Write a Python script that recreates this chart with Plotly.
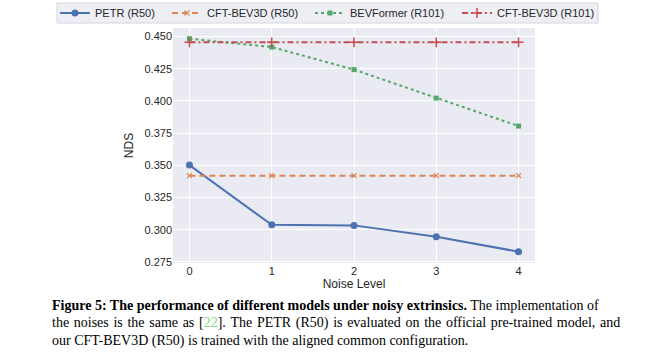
import plotly.graph_objects as go

noise_levels = [0, 1, 2, 3, 4]
petr_r50 = [0.3502, 0.3038, 0.3034, 0.2945, 0.2830]
cft_r50 = [0.3420, 0.3420, 0.3420, 0.3420, 0.3420]
bevformer_r101 = [0.4483, 0.4418, 0.4243, 0.4022, 0.3805]
cft_r101 = [0.4455, 0.4455, 0.4455, 0.4455, 0.4455]
y_ticks = [0.275, 0.300, 0.325, 0.350, 0.375, 0.400, 0.425, 0.450]

W, H = 650, 359
L, R, T, B = 173, 115, 28, 96
pw, ph = W - L - R, H - T - B

def px(x):
    return (x - L) / pw

def py(y):
    return (H - B - y) / ph

fig = go.Figure()
fig.add_trace(go.Scatter(x=noise_levels, y=petr_r50, name="PETR (R50)", mode="lines+markers",
                         legend="legend",
                         line=dict(color="#4c72b0", width=2, dash="solid"),
                         marker=dict(symbol="circle", size=7, color="#4c72b0")))
fig.add_trace(go.Scatter(x=noise_levels, y=cft_r50, name="CFT-BEV3D (R50)", mode="lines+markers",
                         legend="legend2",
                         line=dict(color="#dd8452", width=2, dash="6px,4px"),
                         marker=dict(symbol="x-thin", size=5, color="#dd8452", line=dict(color="#dd8452", width=1.2))))
fig.add_trace(go.Scatter(x=noise_levels, y=bevformer_r101, name="BEVFormer (R101)", mode="lines+markers",
                         legend="legend3",
                         line=dict(color="#55a868", width=2, dash="dot"),
                         marker=dict(symbol="square", size=5, color="#55a868")))
fig.add_trace(go.Scatter(x=noise_levels, y=cft_r101, name="CFT-BEV3D (R101)", mode="lines+markers",
                         legend="legend4",
                         line=dict(color="#c44e52", width=2, dash="6px,3px,2px,3px"),
                         marker=dict(symbol="cross-thin", size=7, color="#c44e52", line=dict(color="#c44e52", width=1.5))))

legend_text_starts = [93, 205, 348, 495]

def leg(xpix):
    return dict(orientation="h", xref="container", yref="container",
                x=(xpix - 38) / W, xanchor="left", y=1 - 13 / H, yanchor="middle",
                bgcolor="rgba(0,0,0,0)", borderwidth=0,
                font=dict(size=11, color="#262626"), itemwidth=30)

fig.update_layout(
    width=W, height=H,
    margin=dict(l=L, r=R, t=T, b=B, pad=0, autoexpand=False),
    paper_bgcolor="white",
    plot_bgcolor="#eaeaf2",
    font=dict(family="Liberation Sans, Arial, sans-serif", size=11, color="#262626"),
    showlegend=True,
    legend=leg(legend_text_starts[0]),
    legend2=leg(legend_text_starts[1]),
    legend3=leg(legend_text_starts[2]),
    legend4=leg(legend_text_starts[3]),
    xaxis=dict(range=[-0.2, 4.2], tickvals=noise_levels, ticktext=[str(v) for v in noise_levels],
               showgrid=True, gridcolor="white", gridwidth=1, zeroline=False, showline=False,
               ticks="", ticklen=0, automargin=False, tickfont=dict(size=11),
               title=dict(text="Noise Level", font=dict(size=12), standoff=0)),
    yaxis=dict(range=[0.2742, 0.4566], tickvals=y_ticks, ticktext=["%.3f" % v for v in y_ticks],
               showgrid=True, gridcolor="white", gridwidth=1, zeroline=False, showline=False,
               ticks="", ticklen=0, automargin=False, tickfont=dict(size=11),
               title=dict(text="NDS", font=dict(size=12), standoff=8)),
)

# legend frame
x0, x1, y0, y1 = 57, 598, 3, 23
fig.add_shape(type="rect", xref="paper", yref="paper",
              x0=px(x0), x1=px(x1), y0=py(y1), y1=py(y0),
              fillcolor="rgba(234,234,242,0.8)", line=dict(color="#d6d6de", width=1), layer="below")

serif = "Liberation Serif, Times New Roman, serif"
line2 = ("the noises is the same as [<span style='color:#7ed67e'>22</span>]. The PETR (R50) "
         "is evaluated on the official pre-trained model, and").replace(" ", " \u200a")
line2 = line2.replace("<span \u200astyle", "<span style")
caption_lines = [
    "<b>Figure 5: The performance of different models under noisy extrinsics.</b> The implementation of",
    line2,
    "our CFT-BEV3D (R50) is trained with the aligned common configuration.",
]
caption_y = [305, 323, 341]
for text, yy in zip(caption_lines, caption_y):
    fig.add_annotation(text=text, xref="paper", yref="paper", x=px(50), y=py(yy),
                       xanchor="left", yanchor="middle", showarrow=False,
                       font=dict(family=serif, size=14, color="black"))

fig.write_html("out.html", config={"displayModeBar": False},
               post_script="document.body.style.margin='0';")
